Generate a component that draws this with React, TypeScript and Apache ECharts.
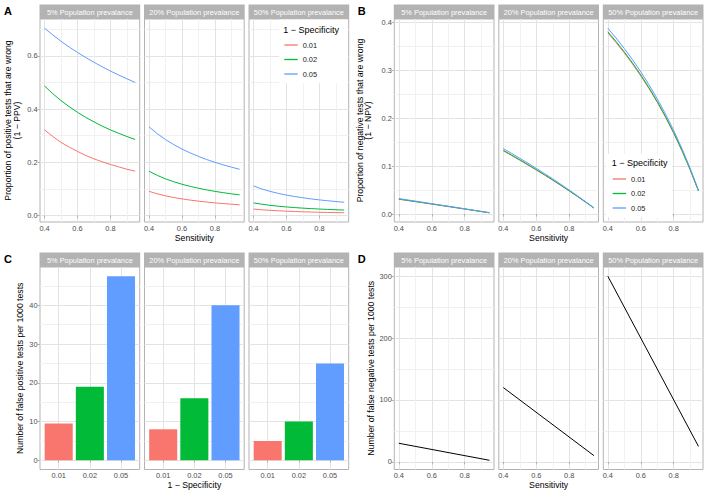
import React, { useEffect, useRef } from 'react';
import * as echarts from 'echarts';

// ---------------- data ----------------
const sensitivity = [0.4, 0.45, 0.5, 0.55, 0.6, 0.65, 0.7, 0.75, 0.8, 0.85, 0.9, 0.95];
const specLabels = ['0.01', '0.02', '0.05'];
const facetLabels = ['5% Population prevalance', '20% Population prevalance', '50% Population prevalance'];

// Panel A: proportion of positive tests that are wrong (1 - PPV); rows = 1 - specificity 0.01, 0.02, 0.05
const wrongPosPrev5 = [
  [0.322, 0.297, 0.275, 0.257, 0.241, 0.226, 0.213, 0.202, 0.192, 0.183, 0.174, 0.167],
  [0.487, 0.458, 0.432, 0.409, 0.388, 0.369, 0.352, 0.336, 0.322, 0.309, 0.297, 0.286],
  [0.704, 0.679, 0.655, 0.633, 0.613, 0.594, 0.576, 0.559, 0.543, 0.528, 0.514, 0.5],
];
const wrongPosPrev20 = [
  [0.0909, 0.0816, 0.0741, 0.0678, 0.0625, 0.058, 0.0541, 0.0506, 0.0476, 0.0449, 0.0426, 0.0404],
  [0.1667, 0.1509, 0.1379, 0.127, 0.1176, 0.1096, 0.1026, 0.0964, 0.0909, 0.086, 0.0816, 0.0777],
  [0.3333, 0.3077, 0.2857, 0.2667, 0.25, 0.2353, 0.2222, 0.2105, 0.2, 0.1905, 0.1818, 0.1739],
];
const wrongPosPrev50 = [
  [0.0244, 0.0217, 0.0196, 0.0179, 0.0164, 0.0152, 0.0141, 0.0132, 0.0123, 0.0116, 0.011, 0.0104],
  [0.0476, 0.0426, 0.0385, 0.0351, 0.0323, 0.0299, 0.0278, 0.026, 0.0244, 0.023, 0.0217, 0.0206],
  [0.1111, 0.1, 0.0909, 0.0833, 0.0769, 0.0714, 0.0667, 0.0625, 0.0588, 0.0556, 0.0526, 0.05],
];

// Panel B: proportion of negative tests that are wrong (1 - NPV)
const wrongNegPrev5 = [
  [0.0309, 0.0284, 0.0259, 0.0234, 0.0208, 0.0183, 0.0157, 0.0131, 0.0105, 0.0079, 0.0053, 0.0027],
  [0.0312, 0.0287, 0.0262, 0.0236, 0.021, 0.0184, 0.0159, 0.0132, 0.0106, 0.008, 0.0053, 0.0027],
  [0.0322, 0.0296, 0.027, 0.0243, 0.0217, 0.019, 0.0163, 0.0137, 0.011, 0.0082, 0.0055, 0.0028],
];
const wrongNegPrev20 = [
  [0.1316, 0.122, 0.1121, 0.102, 0.0917, 0.0812, 0.0704, 0.0594, 0.0481, 0.0365, 0.0246, 0.0125],
  [0.1327, 0.123, 0.1131, 0.103, 0.0926, 0.082, 0.0711, 0.06, 0.0485, 0.0369, 0.0249, 0.0126],
  [0.1364, 0.1264, 0.1163, 0.1059, 0.0952, 0.0843, 0.0732, 0.0617, 0.05, 0.038, 0.0256, 0.013],
];
const wrongNegPrev50 = [
  [0.3774, 0.3571, 0.3356, 0.3125, 0.2878, 0.2612, 0.2326, 0.2016, 0.1681, 0.1316, 0.0917, 0.0481],
  [0.3797, 0.3595, 0.3378, 0.3147, 0.2899, 0.2632, 0.2344, 0.2033, 0.1695, 0.1327, 0.0926, 0.0485],
  [0.3871, 0.3667, 0.3448, 0.3214, 0.2963, 0.2692, 0.24, 0.2083, 0.1739, 0.1364, 0.0952, 0.05],
];

// Panel C: false positive tests per 1000 (by 1 - specificity)
const falsePosPrev5 = [9.5, 19, 47.5];
const falsePosPrev20 = [8, 16, 40];
const falsePosPrev50 = [5, 10, 25];

// Panel D: false negative tests per 1000
const falseNegSens = [0.4, 0.95];
const falseNegPrev5 = [30, 2.5];
const falseNegPrev20 = [120, 10];
const falseNegPrev50 = [300, 25];

// tick values
const sensTicks = [0.4, 0.6, 0.8];
const sensMinor = [0.5, 0.7, 0.9];
const ppvTicks = [0, 0.2, 0.4, 0.6];
const ppvMinor = [0.1, 0.3, 0.5, 0.7];
const npvTicks = [0, 0.1, 0.2, 0.3, 0.4];
const npvMinor = [0.05, 0.15, 0.25, 0.35];
const fpTicks = [0, 10, 20, 30, 40];
const fpMinor = [5, 15, 25, 35, 45];
const fnTicks = [0, 100, 200, 300];
const fnMinor = [50, 150, 250];
const specTicks = [1, 2, 3];

// ---------------- style ----------------
const FONT = '"Liberation Sans", Arial, Helvetica, sans-serif';
const COLORS = ['#F8766D', '#00BA38', '#619CFF'];
const STRIP_BG = '#B3B3B3';
const BORDER = '#B3B3B3';
const GRID_MAJOR = '#E3E3E3';
const GRID_MINOR = '#F1F1F1';
const TICK_TEXT = '#4D4D4D';
const TICK_SIZE = 7.4;
const TITLE_SIZE = 8.7;

const FACET_W = 99.7;
const FACET_GAP = 4.8;
const STRIP_H = 14.5;
const COL_LEFT = [40, 394.3];
const ROW_TOP = [19, 267];
const ROW_H = [203, 202.5];

function expand(vals: number[], mult = 0.05): [number, number] {
  const lo = Math.min(...vals);
  const hi = Math.max(...vals);
  const pad = (hi - lo) * mult;
  return [lo - pad, hi + pad];
}

const fmt1 = (v: number) => v.toFixed(1);
const fmt0 = (v: number) => String(Math.round(v));
const fmtSpec = (v: number) => specLabels[Math.round(v) - 1];

type Panel = {
  letter: string;
  col: number;
  row: number;
  kind: 'curve' | 'bar' | 'fn';
  facets: any[];
  yTicks: number[];
  yMinor: number[];
  yFmt: (v: number) => string;
  yName: string;
  yNameGap: number;
  xName: string;
};

const panels: Panel[] = [
  {
    letter: 'A', col: 0, row: 0, kind: 'curve',
    facets: [wrongPosPrev5, wrongPosPrev20, wrongPosPrev50],
    yTicks: ppvTicks, yMinor: ppvMinor, yFmt: fmt1,
    yName: 'Proportion of positive tests that are wrong\n(1 − PPV)', yNameGap: 19,
    xName: 'Sensitivity',
  },
  {
    letter: 'B', col: 1, row: 0, kind: 'curve',
    facets: [wrongNegPrev5, wrongNegPrev20, wrongNegPrev50],
    yTicks: npvTicks, yMinor: npvMinor, yFmt: fmt1,
    yName: 'Proportion of negative tests that are wrong\n(1 − NPV)', yNameGap: 22,
    xName: 'Sensitivity',
  },
  {
    letter: 'C', col: 0, row: 1, kind: 'bar',
    facets: [falsePosPrev5, falsePosPrev20, falsePosPrev50],
    yTicks: fpTicks, yMinor: fpMinor, yFmt: fmt0,
    yName: 'Number of false positive tests per 1000 tests', yNameGap: 16,
    xName: '1 − Specificity',
  },
  {
    letter: 'D', col: 1, row: 1, kind: 'fn',
    facets: [falseNegPrev5, falseNegPrev20, falseNegPrev50],
    yTicks: fnTicks, yMinor: fnMinor, yFmt: fmt0,
    yName: 'Number of false negative tests per 1000 tests', yNameGap: 19,
    xName: 'Sensitivity',
  },
];

function panelYRange(p: Panel): [number, number] {
  const all: number[] = [];
  p.facets.forEach((fa: any) => {
    if (p.kind === 'curve') (fa as number[][]).forEach((r) => all.push(...r));
    else all.push(...(fa as number[]));
  });
  if (p.kind === 'bar') all.push(0);
  return expand(all);
}

function buildOption() {
  const grids: any[] = [];
  const xAxes: any[] = [];
  const yAxes: any[] = [];
  const series: any[] = [];
  const graphics: any[] = [];

  const sensRange = expand(sensitivity);
  const specRange: [number, number] = [1 - 0.6, 3 + 0.6];

  panels.forEach((p, pi) => {
    const yRange = panelYRange(p);
    const top = ROW_TOP[p.row];
    const height = ROW_H[p.row];

    graphics.push({
      type: 'text', x: COL_LEFT[p.col] - 36 + (p.col === 1 ? -0.5 : 0), y: top - STRIP_H + 1,
      style: { text: p.letter, fill: '#000', fontSize: 11, fontWeight: 'bold', fontFamily: FONT, align: 'left', verticalAlign: 'top' },
    });

    for (let f = 0; f < 3; f++) {
      const g = pi * 3 + f;
      const left = COL_LEFT[p.col] + f * (FACET_W + FACET_GAP);
      grids.push({
        left, top, width: FACET_W, height, show: true,
        borderColor: BORDER, borderWidth: 1, backgroundColor: 'transparent',
      });
      graphics.push({
        type: 'rect', shape: { x: left - 0.5, y: top - STRIP_H, width: FACET_W + 1, height: STRIP_H },
        style: { fill: STRIP_BG },
      });
      graphics.push({
        type: 'text', x: left + FACET_W / 2, y: top - STRIP_H / 2 + 0.5,
        style: { text: facetLabels[f], fill: '#fff', fontSize: TICK_SIZE, fontFamily: FONT, align: 'center', verticalAlign: 'middle' },
      });

      const isBar = p.kind === 'bar';
      const xr = isBar ? specRange : sensRange;
      const xt = isBar ? specTicks : sensTicks;
      const xm = isBar ? [] : sensMinor;
      const xFmt = isBar ? fmtSpec : fmt1;

      xAxes.push({
        type: 'value', gridIndex: g, min: xr[0], max: xr[1], position: 'bottom',
        axisLine: { show: false },
        axisTick: { show: true, customValues: xt, length: 2.5, lineStyle: { color: BORDER, width: 1 } },
        axisLabel: { show: true, customValues: xt, formatter: xFmt, color: TICK_TEXT, fontSize: TICK_SIZE, fontFamily: FONT, margin: 2.5 },
        splitLine: { show: true, customValues: xt, lineStyle: { color: GRID_MAJOR, width: 1 } },
        name: f === 1 ? p.xName : '', nameLocation: 'middle', nameGap: 11,
        nameTextStyle: { color: '#000', fontSize: TITLE_SIZE, fontFamily: FONT },
      });
      xAxes.push({
        type: 'value', gridIndex: g, min: xr[0], max: xr[1], position: 'top',
        axisLine: { show: false },
        axisTick: { show: false, customValues: xm.length ? xm : [xr[0]] },
        axisLabel: { show: false, customValues: xm.length ? xm : [xr[0]] },
        splitLine: { show: xm.length > 0, customValues: xm, lineStyle: { color: GRID_MINOR, width: 1 } },
      });

      const showY = f === 0;
      yAxes.push({
        type: 'value', gridIndex: g, min: yRange[0], max: yRange[1], position: 'left',
        axisLine: { show: false },
        axisTick: { show: showY, customValues: p.yTicks, length: 2.5, lineStyle: { color: BORDER, width: 1 } },
        axisLabel: { show: showY, customValues: p.yTicks, formatter: p.yFmt, color: TICK_TEXT, fontSize: TICK_SIZE, fontFamily: FONT, margin: 2.5 },
        splitLine: { show: true, customValues: p.yTicks, lineStyle: { color: GRID_MAJOR, width: 1 } },
        name: showY ? p.yName : '', nameLocation: 'middle', nameGap: p.yNameGap, nameRotate: 90,
        nameTextStyle: { color: '#000', fontSize: TITLE_SIZE, fontFamily: FONT, lineHeight: 8.5, align: 'center' },
      });
      yAxes.push({
        type: 'value', gridIndex: g, min: yRange[0], max: yRange[1], position: 'right',
        axisLine: { show: false },
        axisTick: { show: false, customValues: p.yMinor },
        axisLabel: { show: false, customValues: p.yMinor },
        splitLine: { show: true, customValues: p.yMinor, lineStyle: { color: GRID_MINOR, width: 1 } },
      });

      const xi = g * 2;
      const yi = g * 2;
      if (p.kind === 'curve') {
        (p.facets[f] as number[][]).forEach((vals, si) => {
          series.push({
            type: 'line', name: specLabels[si], xAxisIndex: xi, yAxisIndex: yi,
            data: sensitivity.map((s, k) => [s, vals[k]]),
            showSymbol: false, symbol: 'none', smooth: false,
            lineStyle: { color: COLORS[si], width: 1 }, itemStyle: { color: COLORS[si] },
            z: 3,
          });
        });
      } else if (p.kind === 'bar') {
        series.push({
          type: 'bar', name: 'fp-' + f, xAxisIndex: xi, yAxisIndex: yi,
          barWidth: '90%',
          data: (p.facets[f] as number[]).map((v, k) => ({ value: [specTicks[k], v], itemStyle: { color: COLORS[k] } })),
          z: 3,
        });
      } else {
        series.push({
          type: 'line', name: 'fn-' + f, xAxisIndex: xi, yAxisIndex: yi,
          data: falseNegSens.map((s, k) => [s, (p.facets[f] as number[])[k]]),
          showSymbol: false, symbol: 'none',
          lineStyle: { color: '#000', width: 1 }, itemStyle: { color: '#000' },
          z: 3,
        });
      }
    }
  });

  // legend backgrounds and titles
  graphics.push({ type: 'rect', z: 1, shape: { x: 279, y: 19.5, width: 69, height: 63.5 }, style: { fill: '#fff' } });
  graphics.push({
    type: 'text', z: 5, x: 283.3, y: 30,
    style: { text: '1 − Specificity', fill: '#000', fontSize: 9, fontFamily: FONT, align: 'left', verticalAlign: 'middle' },
  });
  graphics.push({ type: 'rect', z: 1, shape: { x: 606, y: 154, width: 66, height: 63 }, style: { fill: '#fff' } });
  graphics.push({
    type: 'text', z: 5, x: 611.7, y: 163.3,
    style: { text: '1 − Specificity', fill: '#000', fontSize: 9, fontFamily: FONT, align: 'left', verticalAlign: 'middle' },
  });

  const legendBase = {
    data: specLabels, orient: 'vertical', padding: 0, icon: 'rect',
    itemWidth: 13.4, itemHeight: 1.3, itemGap: 4.5, selectedMode: false,
    textStyle: { color: '#1A1A1A', fontSize: TICK_SIZE, fontFamily: FONT, lineHeight: 10 },
  };

  return {
    animation: false,
    backgroundColor: '#fff',
    textStyle: { fontFamily: FONT },
    grid: grids,
    xAxis: xAxes,
    yAxis: yAxes,
    series,
    legend: [
      { ...legendBase, left: 284.3, top: 40 },
      { ...legendBase, left: 612.7, top: 174 },
    ],
    graphic: { elements: graphics },
  };
}

export default function App() {
  const ref = useRef<HTMLDivElement>(null);
  useEffect(() => {
    const chart = echarts.init(ref.current!, null, { renderer: 'svg' });
    chart.setOption(buildOption() as any);
    return () => chart.dispose();
  }, []);
  return (
    <div
      ref={ref}
      style={{ position: 'fixed', left: 0, top: 0, width: 708, height: 496, background: '#fff' }}
    />
  );
}
